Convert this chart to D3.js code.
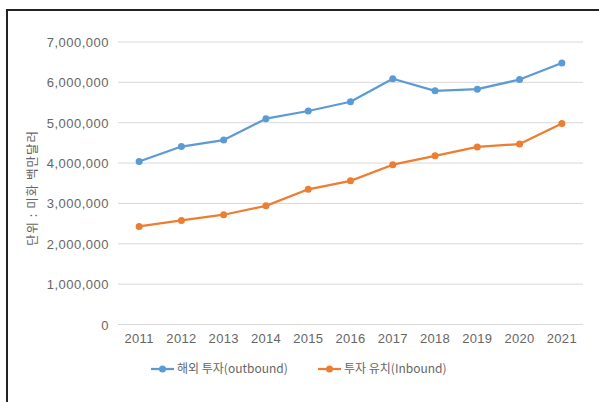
<!DOCTYPE html>
<html><head><meta charset="utf-8">
<script src="https://cdn.jsdelivr.net/npm/d3@7"></script>
<style>body{margin:0;background:#fff;}svg{display:block;font-family:"Noto Sans CJK KR","Noto Sans",sans-serif;}</style>
</head><body>
<svg id="c" width="599" height="402"></svg>
<script>
const years = ["2011","2012","2013","2014","2015","2016","2017","2018","2019","2020","2021"];
const outbound = [4040000,4410000,4570000,5100000,5290000,5520000,6090000,5790000,5830000,6070000,6480000];
const inbound = [2430000,2580000,2720000,2940000,3350000,3560000,3960000,4180000,4400000,4470000,4980000];
const yTicks = [0,1000000,2000000,3000000,4000000,5000000,6000000,7000000];
const seriesNames = ["해외 투자(outbound)","투자 유치(Inbound)"];
const colors = ["#5B9BD5","#ED7D31"];
const yTitle = "단위 : 미화 백만달러";

const svg = d3.select("#c");
// frame
svg.append("path").attr("d","M7,402 V10 H599").attr("fill","none").attr("stroke","#222").attr("stroke-width",2);

const x = d3.scaleBand().domain(years).range([118,583]);
const y = d3.scaleLinear().domain([0,7000000]).range([324.5,42]);

const grid = svg.append("g");
grid.selectAll("line").data(yTicks).join("line")
  .attr("x1",118).attr("x2",583).attr("y1",d=>y(d)).attr("y2",d=>y(d))
  .attr("stroke","#d9d9d9").attr("stroke-width",1);

const yAxis = svg.append("g").attr("transform","translate(109,0)")
  .call(d3.axisLeft(y).tickValues(yTicks).tickSize(0).tickPadding(0).tickFormat(d3.format(",")));
yAxis.select(".domain").remove();
yAxis.selectAll("text").attr("fill","#666").attr("font-size",13).attr("letter-spacing",0.5).attr("font-family","inherit").attr("dy","0.35em");

const xAxis = svg.append("g").attr("transform","translate(0,334)")
  .call(d3.axisBottom(x).tickSize(0).tickPadding(0));
xAxis.select(".domain").remove();
xAxis.selectAll("text").attr("fill","#666").attr("font-size",13).attr("letter-spacing",0.3).attr("font-family","inherit").attr("dy","0.71em");

svg.append("text").attr("transform","translate(37,188) rotate(-90)")
  .attr("text-anchor","middle").attr("fill","#666").attr("font-size",12.5).attr("letter-spacing",1).text(yTitle);

const line = d3.line().x((d,i)=>x(years[i])+x.bandwidth()/2).y(d=>y(d));
[outbound,inbound].forEach((s,k)=>{
  svg.append("path").datum(s).attr("d",line).attr("fill","none").attr("stroke",colors[k]).attr("stroke-width",2.25).attr("stroke-linejoin","round");
  svg.append("g").selectAll("circle").data(s).join("circle")
    .attr("cx",(d,i)=>x(years[i])+x.bandwidth()/2).attr("cy",d=>y(d)).attr("r",3.5).attr("fill",colors[k]);
});

// legend
const lx = [151,318];
seriesNames.forEach((n,k)=>{
  const g = svg.append("g").attr("transform",`translate(${lx[k]},369)`);
  g.append("line").attr("x1",0).attr("x2",23).attr("stroke",colors[k]).attr("stroke-width",2.25);
  g.append("circle").attr("cx",11.5).attr("r",3.5).attr("fill",colors[k]);
  g.append("text").attr("x",26).attr("dy","0.35em").attr("fill","#666").attr("font-size",12).text(n);
});
</script>
</body></html>
